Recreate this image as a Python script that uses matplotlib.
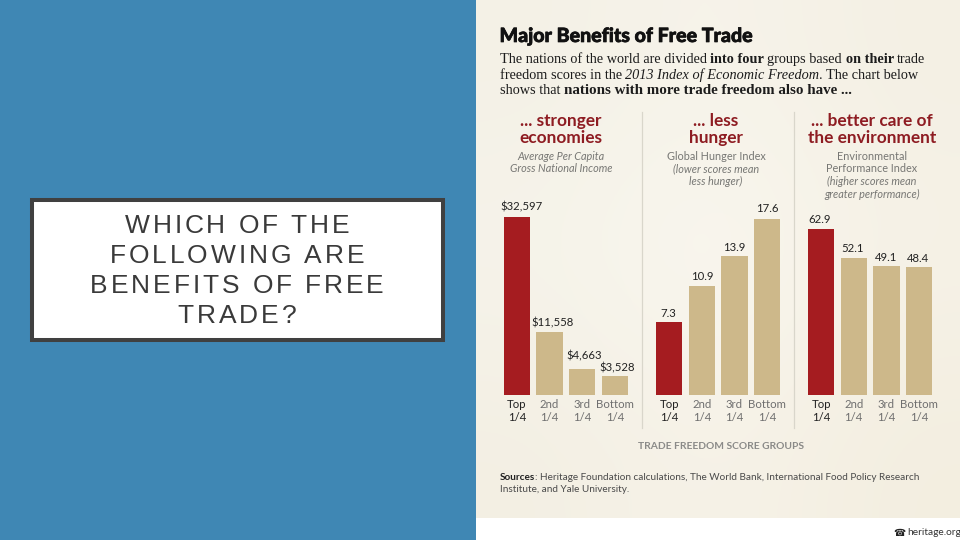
import numpy as np
import matplotlib
matplotlib.use("Agg")
import matplotlib.pyplot as plt
import matplotlib.patheffects as pe
from matplotlib.patches import Rectangle

# chart data
GROUPS = ["Top\n1/4", "2nd\n1/4", "3rd\n1/4", "Bottom\n1/4"]
INCOME = [32597, 11558, 4663, 3528]
HUNGER = [7.3, 10.9, 13.9, 17.6]
ENVIRONMENT = [62.9, 52.1, 49.1, 48.4]

INCOME_LABELS = ["$32,597", "$11,558", "$4,663", "$3,528"]
HUNGER_LABELS = ["7.3", "10.9", "13.9", "17.6"]
ENVIRONMENT_LABELS = ["62.9", "52.1", "49.1", "48.4"]

HEADERS = ["... stronger\neconomies", "... less\nhunger", "... better care of\nthe environment"]

BLUE = "#3f87b4"
RED = "#a51c20"
TAN = "#cdb88a"
HEAD_RED = "#8e1c22"
GREY = "#6f6f6f"

SANS = "Lato"
SERIF = "Liberation Serif"
BOX_FONT = "Liberation Sans"

fig = plt.figure(figsize=(9.6, 5.4), dpi=100, facecolor=BLUE)
bg = fig.add_axes([0, 0, 1, 1])
bg.set_xlim(0, 960)
bg.set_ylim(540, 0)
bg.axis("off")


def runs(x, y, parts, size):
    # text with mixed styles on one line, each part starts where the last ended
    r = fig.canvas.get_renderer()
    for s, weight, style in parts:
        t = bg.text(x, y, s, family=SERIF, fontsize=size, weight=weight, style=style,
                    color="#1c1c1c", va="center", ha="left")
        x = t.get_window_extent(r).x1
    return x


def spaced(cx, y, s, size, gap):
    # letter spaced line, centred on cx
    r = fig.canvas.get_renderer()
    widths = []
    for c in s:
        if c == " ":
            widths.append(size * 0.38)
            continue
        t = bg.text(0, 0, c, family=BOX_FONT, fontsize=size)
        widths.append(t.get_window_extent(r).width)
        t.remove()
    x = cx - (sum(widths) + gap * (len(s) - 1)) / 2
    for c, w in zip(s, widths):
        if c != " ":
            bg.text(x, y, c, family=BOX_FONT, fontsize=size, color="#3a3a3a",
                    va="baseline", ha="left")
        x += w + gap


# left box
bg.add_patch(Rectangle((32, 200), 411, 140, fc="white", ec="#404040", lw=2.9))
for line, base in zip(["WHICH OF THE", "FOLLOWING ARE", "BENEFITS OF FREE", "TRADE?"], [233, 263, 293, 323]):
    spaced(237, base, line, 19, 2.9)

# infographic background
bg.add_patch(Rectangle((476, 518), 484, 22, fc="white", ec="none"))
shade = np.array([
    [[244, 241, 230], [247, 244, 235], [244, 240, 228]],
    [[246, 244, 235], [251, 248, 241], [246, 242, 231]],
    [[243, 239, 227], [247, 243, 233], [243, 238, 224]],
], dtype=float) / 255
bg.imshow(shade, extent=(476, 960, 518, 0), aspect="auto", interpolation="bicubic", zorder=0)
bg.add_patch(Rectangle((0, 0), 476, 540, fc=BLUE, ec="none", zorder=0.5))
bg.set_xlim(0, 960)
bg.set_ylim(540, 0)

# title and intro
bg.text(499.5, 35.5, "Major Benefits of Free Trade", family=SANS, weight="black",
        fontsize=14.1, color="#111111", va="center", ha="left",
        path_effects=[pe.withStroke(linewidth=0.5, foreground="#111111")])
runs(499.5, 59.5, [("The nations of the world are divided ", "normal", "normal"),
                   ("into four ", "bold", "normal"), ("groups based ", "normal", "normal"),
                   ("on their ", "bold", "normal"), ("trade", "normal", "normal")], 10.3)
runs(499.5, 75.5, [("freedom scores in the ", "normal", "normal"),
                   ("2013 Index of Economic Freedom", "normal", "italic"),
                   (". The chart below", "normal", "normal")], 10.3)
end = runs(499.5, 91, [("shows that ", "normal", "normal")], 10.3)
runs(end, 91, [("nations with more trade freedom also have ...", "bold", "normal")], 10.85)

# dividers
for x in [641.7, 794.3]:
    bg.plot([x, x], [112, 428], color="#d9d6cb", lw=0.9)

# panel headers and subtitles
for cx, head in zip([561, 716, 872], HEADERS):
    bg.text(cx, 129.5, head, family=SANS, weight="bold", fontsize=12.4, color=HEAD_RED,
            ha="center", va="center", linespacing=1.05)

sub = dict(family=SANS, fontsize=7.8, color="#777774", ha="center", va="center")
bg.text(561, 156.5, "Average Per Capita", style="italic", **sub)
bg.text(561, 169, "Gross National Income", style="italic", **sub)
bg.text(716, 156.5, "Global Hunger Index", **sub)
bg.text(716, 169, "(lower scores mean", style="italic", **sub)
bg.text(716, 181, "less hunger)", style="italic", **sub)
bg.text(872, 156.5, "Environmental", **sub)
bg.text(872, 169, "Performance Index", **sub)
bg.text(872, 181.5, "(higher scores mean", style="italic", **sub)
bg.text(872, 194, "greater performance)", style="italic", **sub)

# bar panels: data, labels, left px, right px, tallest bar top px, label nudges px
BASE_Y = 395
AX_TOP = 198
panels = [
    (INCOME, INCOME_LABELS, 500.5, 631.3, 216.7, [(5, 9.5), (2.5, 9), (2, 14), (2.5, 8)]),
    (HUNGER, HUNGER_LABELS, 653.0, 783.3, 219.3, [(-1, 9), (0, 9.5), (0, 9), (0, 11)]),
    (ENVIRONMENT, ENVIRONMENT_LABELS, 804.7, 935.4, 229.3, [(-1, 9.5), (-1, 9), (0, 8.5), (-1, 8.5)]),
]

for vals, labels, left, right, top, nudges in panels:
    ax = fig.add_axes([left / 960, 1 - BASE_Y / 540, (right - left) / 960, (BASE_Y - AX_TOP) / 540])
    ax.patch.set_alpha(0)
    colors = [RED] + [TAN] * 3
    ax.bar(range(4), vals, width=0.805, color=colors)
    ax.set_xlim(-0.5, 3.5)
    ax.set_ylim(0, max(vals) * (BASE_Y - AX_TOP) / (BASE_Y - top))
    for s in ax.spines.values():
        s.set_visible(False)
    ax.set_yticks([])
    ax.set_xticks(range(4))
    ax.set_xticklabels(GROUPS, family=SANS, fontsize=8.2, color=GREY, linespacing=1.2)
    ax.get_xticklabels()[0].set_color("#222222")
    ax.tick_params(axis="x", length=0, pad=3.0)
    for i, (v, lab) in enumerate(zip(vals, labels)):
        dx, dy = nudges[i]
        ax.annotate(lab, (i, v), xytext=(dx * 0.72, dy * 0.72), textcoords="offset points",
                    family=SANS, fontsize=8.2, color="#222222", ha="center", va="center")

# footer
bg.text(721, 446.7, "TRADE FREEDOM SCORE GROUPS", family=SANS, weight="bold", fontsize=7.4,
        color="#8a8a88", ha="center", va="center")
r = fig.canvas.get_renderer()
t = bg.text(499.5, 477.5, "Sources", family=SANS, weight="bold", fontsize=7.2, color="#222222", va="center")
bg.text(t.get_window_extent(r).x1, 477.5,
        ": Heritage Foundation calculations, The World Bank, International Food Policy Research",
        family=SANS, fontsize=7.2, color="#4a4a4a", va="center")
bg.text(499.5, 490, "Institute, and Yale University.", family=SANS, fontsize=7.2, color="#4a4a4a", va="center")
bg.text(893, 532.5, "\u260e", family="DejaVu Sans", fontsize=7, color="#222222", va="center")
bg.text(907, 532.5, "heritage.org", family=SANS, fontsize=7.3, color="#333333", va="center")

fig.savefig("out.png", dpi=100, facecolor=BLUE)
